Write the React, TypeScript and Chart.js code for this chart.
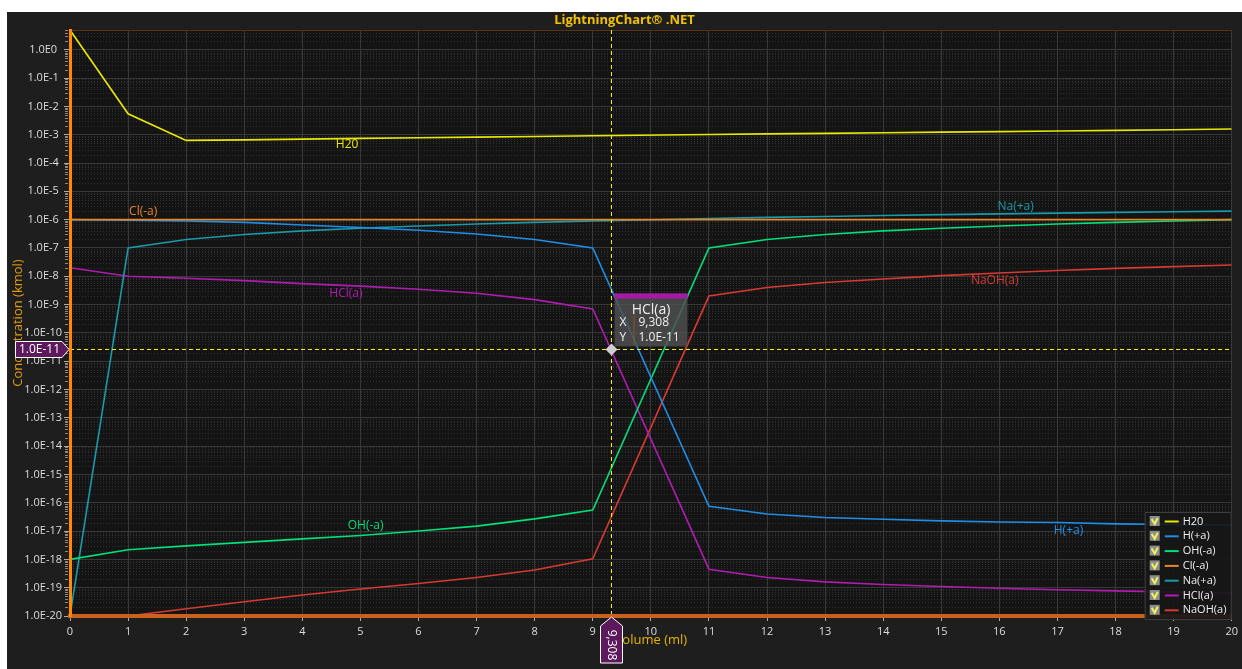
import React, { useEffect, useRef } from 'react';
import { Chart, registerables } from 'chart.js';

Chart.register(...registerables);

// ---- DATA ----
const volumes = [0, 1, 2, 3, 4, 5, 6, 7, 8, 9, 11, 12, 13, 14, 15, 16, 17, 18, 19, 20];
const h2o = [5, 5.5e-3, 6.3e-4, 6.6e-4, 7.0e-4, 7.4e-4, 7.8e-4, 8.2e-4, 8.7e-4, 9.2e-4, 1.02e-3, 1.07e-3, 1.12e-3, 1.17e-3, 1.23e-3, 1.29e-3, 1.35e-3, 1.42e-3, 1.5e-3, 1.6e-3];
const hPlus = [1e-6, 9.5e-7, 9e-7, 8e-7, 6.5e-7, 5.3e-7, 4.2e-7, 3.1e-7, 2e-7, 1e-7, 7.5e-17, 4e-17, 3e-17, 2.6e-17, 2.3e-17, 2.1e-17, 2e-17, 1.8e-17, 1.7e-17, 1.6e-17];
const ohMinus = [1e-18, 2.2e-18, 3e-18, 4e-18, 5.3e-18, 7e-18, 1e-17, 1.5e-17, 2.7e-17, 5.5e-17, 1e-7, 2e-7, 3e-7, 4e-7, 5e-7, 6e-7, 7e-7, 8e-7, 9e-7, 1e-6];
const clMinus = [1e-6, 1e-6, 1e-6, 1e-6, 1e-6, 1e-6, 1e-6, 1e-6, 1e-6, 1e-6, 1e-6, 1e-6, 1e-6, 1e-6, 1e-6, 1e-6, 1e-6, 1e-6, 1e-6, 1e-6];
const naPlus = [1e-20, 1e-7, 2e-7, 3e-7, 4e-7, 5e-7, 6e-7, 7e-7, 8e-7, 9e-7, 1.1e-6, 1.2e-6, 1.3e-6, 1.4e-6, 1.5e-6, 1.6e-6, 1.7e-6, 1.8e-6, 1.9e-6, 2e-6];
const hcl = [2e-8, 1e-8, 8.5e-9, 7e-9, 5.5e-9, 4.5e-9, 3.5e-9, 2.5e-9, 1.5e-9, 7e-10, 4.5e-19, 2.3e-19, 1.6e-19, 1.3e-19, 1.1e-19, 9.5e-20, 8.5e-20, 7.7e-20, 7e-20, 6.5e-20];
const naoh = [1e-20, 1e-20, 1.8e-20, 3.2e-20, 5.5e-20, 9e-20, 1.4e-19, 2.3e-19, 4.2e-19, 1.05e-18, 2e-9, 4e-9, 6e-9, 8e-9, 1.05e-8, 1.3e-8, 1.6e-8, 1.9e-8, 2.2e-8, 2.5e-8];

const seriesNames = ['H20', 'H(+a)', 'OH(-a)', 'Cl(-a)', 'Na(+a)', 'HCl(a)', 'NaOH(a)'];
const seriesValues = [h2o, hPlus, ohMinus, clMinus, naPlus, hcl, naoh];
const seriesColors = ['#e8e800', '#1e8fe8', '#00e07a', '#e8862a', '#1a9aaa', '#b01cb0', '#d63a32'];
const seriesOrder = [0, 0, 0, -1, 0, 0, 0];

const xTickValues = [0, 1, 2, 3, 4, 5, 6, 7, 8, 9, 10, 11, 12, 13, 14, 15, 16, 17, 18, 19, 20];
const yTickExponents = [0, -1, -2, -3, -4, -5, -6, -7, -8, -9, -10, -11, -12, -13, -14, -15, -16, -17, -18, -19, -20];

// label anchors in data coordinates
const seriesLabelX = [4.77, 17.19, 5.09, 1.26, 16.28, 4.75, 15.92];
const seriesLabelY = [4.4e-4, 1.0e-17, 1.6e-17, 1.9e-6, 2.8e-6, 2.4e-9, 6.9e-9];

const cursorX = 9.308;
const cursorY = 2.7e-11;
const cursorSeries = 'HCl(a)';
const cursorXText = '9,308';
const cursorYText = '1.0E-11';

const chartTitle = 'LightningChart\u00ae .NET';
const xTitle = 'Volume (ml)';
const yTitle = 'Concentration (kmol)';

const FONT = '"Open Sans", "Noto Sans", sans-serif';

const decorPlugin = {
  id: 'decor',
  beforeDraw(chart: any) {
    const { ctx, chartArea: a, width, height } = chart;
    ctx.save();
    ctx.fillStyle = '#1e1e1e';
    ctx.fillRect(0, 0, width, height);
    ctx.fillStyle = '#141414';
    ctx.fillRect(a.left, a.top, a.right - a.left, a.bottom - a.top);
    ctx.restore();
  },
  beforeDatasetsDraw(chart: any) {
    const { ctx, chartArea: a, scales } = chart;
    const y = scales.y;
    ctx.save();
    ctx.strokeStyle = 'rgba(80,80,80,0.45)';
    ctx.lineWidth = 1;
    ctx.setLineDash([1, 2]);
    for (let e = -20; e <= 0; e++) {
      for (let m = 2; m <= 9; m++) {
        const v = m * Math.pow(10, e);
        if (v > 5) continue;
        const py = Math.round(y.getPixelForValue(v)) + 0.5;
        ctx.beginPath();
        ctx.moveTo(a.left, py);
        ctx.lineTo(a.right, py);
        ctx.stroke();
      }
    }
    ctx.setLineDash([]);
    ctx.strokeStyle = '#8a8a8a';
    for (let e = -20; e <= 0; e++) {
      for (let m = 2; m <= 9; m++) {
        const v = m * Math.pow(10, e);
        if (v > 5) continue;
        const py = Math.round(y.getPixelForValue(v)) + 0.5;
        ctx.beginPath();
        ctx.moveTo(a.left - 5, py);
        ctx.lineTo(a.left - 2, py);
        ctx.stroke();
      }
    }
    ctx.strokeStyle = '#5a3408';
    ctx.beginPath();
    ctx.moveTo(a.left, a.top + 0.5);
    ctx.lineTo(a.right, a.top + 0.5);
    ctx.stroke();
    ctx.restore();
  },
  afterDatasetsDraw(chart: any) {
    const { ctx, chartArea: a, scales } = chart;
    const xs = scales.x, ys = scales.y;
    ctx.save();
    ctx.font = `12px ${FONT}`;
    ctx.textAlign = 'center';
    ctx.textBaseline = 'middle';
    seriesNames.forEach((n, i) => {
      ctx.fillStyle = seriesColors[i];
      ctx.fillText(n, xs.getPixelForValue(seriesLabelX[i]), ys.getPixelForValue(seriesLabelY[i]));
    });
    // crosshair
    const px = Math.round(xs.getPixelForValue(cursorX)) + 0.5;
    const py = Math.round(ys.getPixelForValue(cursorY)) + 0.5;
    ctx.strokeStyle = '#ffec00';
    ctx.lineWidth = 1;
    ctx.setLineDash([4, 3]);
    ctx.beginPath();
    ctx.moveTo(px, a.top);
    ctx.lineTo(px, a.bottom);
    ctx.stroke();
    ctx.beginPath();
    ctx.moveTo(a.left, py);
    ctx.lineTo(a.right, py);
    ctx.stroke();
    ctx.setLineDash([]);
    // tooltip box
    const bx = px + 3, bw = 73, bh = 53, by = py - 56;
    ctx.fillStyle = 'rgba(80,80,80,0.82)';
    ctx.fillRect(bx, by, bw, bh);
    ctx.fillStyle = '#a818a8';
    ctx.fillRect(bx, by, bw, 5);
    ctx.fillStyle = '#f0f0f0';
    ctx.font = `14px ${FONT}`;
    ctx.textAlign = 'center';
    ctx.fillText(cursorSeries, bx + bw / 2, by + 17);
    ctx.font = `12px ${FONT}`;
    ctx.textAlign = 'left';
    ctx.fillText('X', bx + 5, by + 29);
    ctx.fillText('Y', bx + 5, by + 44);
    ctx.fillText(cursorXText, bx + 24, by + 29);
    ctx.fillText(cursorYText, bx + 24, by + 44);
    ctx.strokeStyle = '#8a5a18';
    ctx.beginPath();
    ctx.moveTo(bx + 19.5, by + 22);
    ctx.lineTo(bx + 19.5, by + 51);
    ctx.stroke();
    // diamond
    ctx.fillStyle = '#cfcfcf';
    ctx.beginPath();
    ctx.moveTo(px, py - 6);
    ctx.lineTo(px + 6, py);
    ctx.lineTo(px, py + 6);
    ctx.lineTo(px - 6, py);
    ctx.closePath();
    ctx.fill();
    ctx.restore();
  },
  afterDraw(chart: any) {
    const { ctx, chartArea: a, scales, width } = chart;
    const xs = scales.x, ys = scales.y;
    ctx.save();
    ctx.font = `bold 13px ${FONT}`;
    ctx.fillStyle = '#f2c200';
    ctx.textAlign = 'center';
    ctx.textBaseline = 'middle';
    ctx.fillText(chartTitle, width / 2, 8);
    ctx.font = `13px ${FONT}`;
    ctx.fillStyle = '#e6b400';
    ctx.fillText(xTitle, (a.left + a.right) / 2, a.bottom + 24);
    ctx.save();
    ctx.translate(11, (a.top + a.bottom) / 2);
    ctx.rotate(-Math.PI / 2);
    ctx.fillStyle = '#e09a10';
    ctx.fillText(yTitle, 0, 0);
    ctx.restore();
    // y flag
    const py = Math.round(ys.getPixelForValue(cursorY)) + 0.5;
    ctx.fillStyle = '#5c1a5c';
    ctx.strokeStyle = '#ffffff';
    ctx.lineWidth = 1;
    ctx.beginPath();
    ctx.moveTo(8.5, py - 8);
    ctx.lineTo(a.left - 8, py - 8);
    ctx.lineTo(a.left - 1, py);
    ctx.lineTo(a.left - 8, py + 8);
    ctx.lineTo(8.5, py + 8);
    ctx.closePath();
    ctx.fill();
    ctx.stroke();
    ctx.fillStyle = '#ffffff';
    ctx.font = `12px ${FONT}`;
    ctx.textAlign = 'center';
    ctx.fillText(cursorYText, (8 + a.left - 6) / 2, py + 0.5);
    // x flag
    const px = Math.round(xs.getPixelForValue(cursorX)) + 0.5;
    ctx.fillStyle = '#5c1a5c';
    ctx.beginPath();
    ctx.moveTo(px, a.bottom + 1);
    ctx.lineTo(px + 11, a.bottom + 10);
    ctx.lineTo(px + 11, a.bottom + 47);
    ctx.lineTo(px - 11, a.bottom + 47);
    ctx.lineTo(px - 11, a.bottom + 10);
    ctx.closePath();
    ctx.fill();
    ctx.stroke();
    ctx.save();
    ctx.translate(px, a.bottom + 29);
    ctx.rotate(Math.PI / 2);
    ctx.fillStyle = '#ffffff';
    ctx.fillText(cursorXText, 0, 0);
    ctx.restore();
    // legend
    const lx = a.right - 87, ly = a.bottom - 104, lw = 87, lh = 108;
    ctx.fillStyle = 'rgba(22,22,22,0.9)';
    ctx.fillRect(lx, ly, lw, lh);
    ctx.strokeStyle = '#3e3e3e';
    ctx.strokeRect(lx + 0.5, ly + 0.5, lw - 1, lh - 1);
    ctx.font = `11px ${FONT}`;
    ctx.textAlign = 'left';
    seriesNames.forEach((n, i) => {
      const cy = ly + 9 + i * 14.8;
      ctx.fillStyle = '#8c8c8c';
      ctx.fillRect(lx + 5, cy - 5, 10, 10);
      ctx.strokeStyle = '#f0f060';
      ctx.lineWidth = 2;
      ctx.beginPath();
      ctx.moveTo(lx + 7, cy - 2);
      ctx.lineTo(lx + 10, cy + 3);
      ctx.lineTo(lx + 13, cy - 3);
      ctx.stroke();
      ctx.strokeStyle = seriesColors[i];
      ctx.beginPath();
      ctx.moveTo(lx + 20, cy + 0.5);
      ctx.lineTo(lx + 34, cy + 0.5);
      ctx.stroke();
      ctx.fillStyle = '#eeeeee';
      ctx.fillText(n, lx + 38, cy + 0.5);
    });
    ctx.restore();
  },
};

export default function App() {
  const ref = useRef<HTMLCanvasElement>(null);
  useEffect(() => {
    if (!ref.current) return;
    const chart = new Chart(ref.current, {
      type: 'line',
      data: {
        datasets: seriesNames.map((n, i) => ({
          label: n,
          data: volumes.map((v, j) => ({ x: v, y: seriesValues[i][j] })),
          borderColor: seriesColors[i],
          backgroundColor: seriesColors[i],
          borderWidth: 1.6,
          pointRadius: 0,
          tension: 0,
          fill: false,
          order: seriesOrder[i],
        })),
      },
      options: {
        animation: false,
        responsive: false,
        devicePixelRatio: 1,
        layout: { padding: { top: 18, right: 10, left: 0, bottom: 0 } },
        plugins: { legend: { display: false }, tooltip: { enabled: false } },
        scales: {
          x: {
            type: 'linear',
            min: 0,
            max: 20,
            afterBuildTicks: (s: any) => {
              s.ticks = xTickValues.map((v) => ({ value: v }));
            },
            afterFit: (s: any) => {
              s.height = 53;
            },
            ticks: {
              color: '#dcdcdc',
              font: { family: FONT, size: 11 },
              padding: 4,
              autoSkip: false,
              maxRotation: 0,
              callback: (v: any) => String(v),
            },
            grid: { color: '#383838', lineWidth: 1, tickLength: 5, tickColor: '#aaaaaa' },
            border: { display: true, color: '#c8621c', width: 4, z: 1 },
          },
          y: {
            type: 'logarithmic',
            min: 1e-20,
            max: 5,
            afterBuildTicks: (s: any) => {
              s.ticks = yTickExponents.map((e) => ({ value: Math.pow(10, e) }));
            },
            afterFit: (s: any) => {
              s.width = 63;
            },
            ticks: {
              color: '#dcdcdc',
              font: { family: FONT, size: 11 },
              padding: 2,
              crossAlign: 'center',
              autoSkip: false,
              callback: (v: any) => '1.0E' + Math.round(Math.log10(v)),
            },
            grid: { color: '#383838', lineWidth: 1, tickLength: 6, tickColor: '#aaaaaa' },
            border: { display: true, color: '#ff8a00', width: 3, z: 1 },
          },
        },
      } as any,
      plugins: [decorPlugin],
    });
    return () => chart.destroy();
  }, []);
  return (
    <div style={{ position: 'fixed', left: 7, top: 12, width: 1235, height: 657, background: '#1e1e1e' }}>
      <canvas ref={ref} width={1235} height={657} style={{ display: 'block', width: 1235, height: 657 }} />
    </div>
  );
}
